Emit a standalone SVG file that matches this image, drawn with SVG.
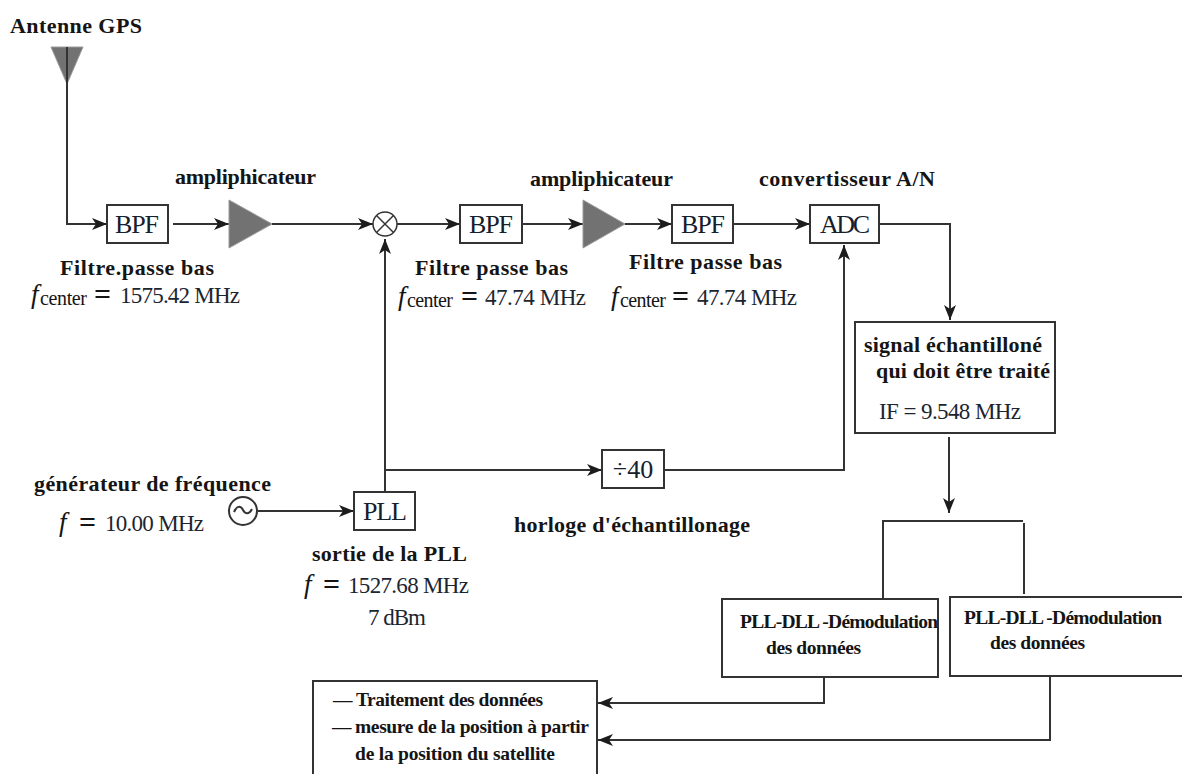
<svg xmlns="http://www.w3.org/2000/svg" width="1182" height="774" viewBox="0 0 1182 774">
<style>
text{font-family:"Liberation Serif","Times New Roman",serif;fill:#151515}
.b{font-weight:bold;font-size:22px}
.s{font-weight:bold;font-size:19.500px}
.r{font-size:23px;fill:#1c2530}
.n{font-size:26px;text-anchor:middle;fill:#14202c}
.i{font-style:italic;font-size:27px}
.u{font-size:20px}
.q{font-weight:bold;font-size:30px}
.box{fill:#fff;stroke:#333;stroke-width:2}
.tri{fill:#727272;stroke:#9a9a9a;stroke-width:1}
.c{fill:none;stroke:#333;stroke-width:2}
.a{marker-end:url(#arrow)}
</style>
<defs>
<marker id="arrow" markerUnits="userSpaceOnUse" markerWidth="16" markerHeight="14" refX="15" refY="7" orient="auto">
<path d="M0,1 L15,7 L0,13 L4,7 Z" fill="#1c1c1c"/>
</marker>
</defs>
<rect width="1182" height="774" fill="#fff"/>
<g id="connectors">
<path class="c a" d="M67,84 V224 H107"/>
<path class="c a" d="M173,224 H229"/>
<path class="c a" d="M272,224 H373"/>
<path class="c a" d="M397,224 H460"/>
<path class="c a" d="M522,224 H583"/>
<path class="c a" d="M625,224 H672"/>
<path class="c a" d="M733,224 H810"/>
<path class="c a" d="M879,224 H950 V320"/>
<path class="c a" d="M385,492 V239"/>
<path class="c a" d="M385,470 H602"/>
<path class="c a" d="M664,470 H844 V245"/>
<path class="c a" d="M258,511 H354"/>
<path class="c a" d="M949,437 V513"/>
<path class="c" d="M883,603 V521 H1023"/>
<path class="c" d="M1024,523 V594"/>
<path class="c a" d="M824,677 V703 H598"/>
<path class="c a" d="M1050,676 V740 H598"/>
</g>
<g id="antenne">
<path class="tri" d="M51,47 H83 L67,84 Z"/>
<path class="c" d="M67,47 V84"/>
<text class="b" x="10" y="33" textLength="132">Antenne GPS</text>
</g>
<g id="bpf1">
<rect class="box" x="107" y="205" width="61" height="38"/>
<text class="n" x="137" y="233" textLength="44">BPF</text>
<text class="b" x="60" y="275" textLength="154">Filtre.passe bas</text>
<text y="303"><tspan class="i" x="31">f</tspan><tspan class="u" x="40" y="305" textLength="47">center</tspan><tspan class="q" x="94" y="304">=</tspan><tspan class="r" x="120" y="303" textLength="120">1575.42 MHz</tspan></text>
</g>
<g id="amp1">
<path class="tri" d="M229,200 V248 L272,224 Z"/>
<text class="b" x="175" y="184" textLength="141">ampliphicateur</text>
</g>
<g id="mixer">
<circle cx="385" cy="224" r="12" fill="#fff" stroke="#333" stroke-width="1.500"/>
<path d="M376.500,215.500 L393.500,232.500 M393.500,215.500 L376.500,232.500" fill="none" stroke="#333" stroke-width="1.500"/>
</g>
<g id="bpf2">
<rect class="box" x="460" y="205" width="62" height="38"/>
<text class="n" x="491" y="233" textLength="44">BPF</text>
<text class="b" x="415" y="275" textLength="153">Filtre passe bas</text>
<text y="305"><tspan class="i" x="398">f</tspan><tspan class="u" x="407" y="307" textLength="46">center</tspan><tspan class="q" x="461" y="306">=</tspan><tspan class="r" x="485" y="305" textLength="101">47.74 MHz</tspan></text>
</g>
<g id="amp2">
<path class="tri" d="M583,200 V248 L625,224 Z"/>
<text class="b" x="530" y="186" textLength="143">ampliphicateur</text>
</g>
<g id="bpf3">
<rect class="box" x="672" y="205" width="61" height="38"/>
<text class="n" x="703" y="233" textLength="44">BPF</text>
<text class="b" x="629" y="269" textLength="153">Filtre passe bas</text>
<text y="305"><tspan class="i" x="611">f</tspan><tspan class="u" x="620" y="307" textLength="46">center</tspan><tspan class="q" x="672" y="306">=</tspan><tspan class="r" x="697" y="305" textLength="100">47.74 MHz</tspan></text>
</g>
<g id="adc">
<rect class="box" x="810" y="205" width="69" height="38"/>
<text class="n" x="845" y="233" textLength="50">ADC</text>
<text class="b" x="759" y="186" textLength="176">convertisseur A/N</text>
</g>
<g id="signal">
<rect class="box" x="855" y="322" width="200" height="111"/>
<text class="b" x="864" y="352" textLength="178">signal échantilloné</text>
<text class="b" x="876" y="378" textLength="174">qui doit être traité</text>
<text class="r" x="879" y="419" textLength="142">IF = 9.548 MHz</text>
</g>
<g id="div40">
<rect class="box" x="602" y="450" width="62" height="38"/>
<text class="n" x="633" y="478">÷40</text>
<text class="b" x="514" y="532" textLength="236">horloge d'échantillonage</text>
</g>
<g id="generateur">
<circle class="box" cx="243" cy="511" r="14"/>
<path class="c" d="M234,512 C237,505 241,506 243,510 C245,514 249,515 252,509"/>
<text class="b" x="34" y="491" textLength="237">générateur de fréquence</text>
<text y="531"><tspan class="i" x="59">f</tspan><tspan class="q" x="79" y="532">=</tspan><tspan class="r" x="105" y="531" textLength="99">10.00 MHz</tspan></text>
</g>
<g id="pll">
<rect class="box" x="354" y="492" width="61" height="38"/>
<text class="n" x="385" y="520" textLength="44">PLL</text>
<text class="b" x="312" y="561" textLength="155">sortie de la PLL</text>
<text y="593"><tspan class="i" x="304">f</tspan><tspan class="q" x="323" y="594">=</tspan><tspan class="r" x="348" y="593" textLength="121">1527.68 MHz</tspan></text>
<text class="r" x="368" y="625" textLength="58">7 dBm</text>
</g>
<g id="demod1">
<rect class="box" x="722" y="599" width="216" height="78"/>
<text class="s" x="740" y="628" textLength="198">PLL-DLL -Démodulation</text>
<text class="s" x="766" y="654" textLength="95">des données</text>
</g>
<g id="demod2">
<rect class="box" x="950" y="597" width="240" height="79"/>
<text class="s" x="964" y="624" textLength="198">PLL-DLL -Démodulation</text>
<text class="s" x="990" y="649" textLength="95">des données</text>
</g>
<g id="traitement">
<rect class="box" x="313" y="681" width="284" height="100"/>
<text class="s" x="333" y="706" textLength="14">—</text>
<text class="s" x="356" y="706" textLength="187">Traitement des données</text>
<text class="s" x="332" y="733" textLength="14">—</text>
<text class="s" x="355" y="733" textLength="234">mesure de la position à partir</text>
<text class="s" x="355" y="760" textLength="200">de la position  du satellite</text>
</g>
</svg>
